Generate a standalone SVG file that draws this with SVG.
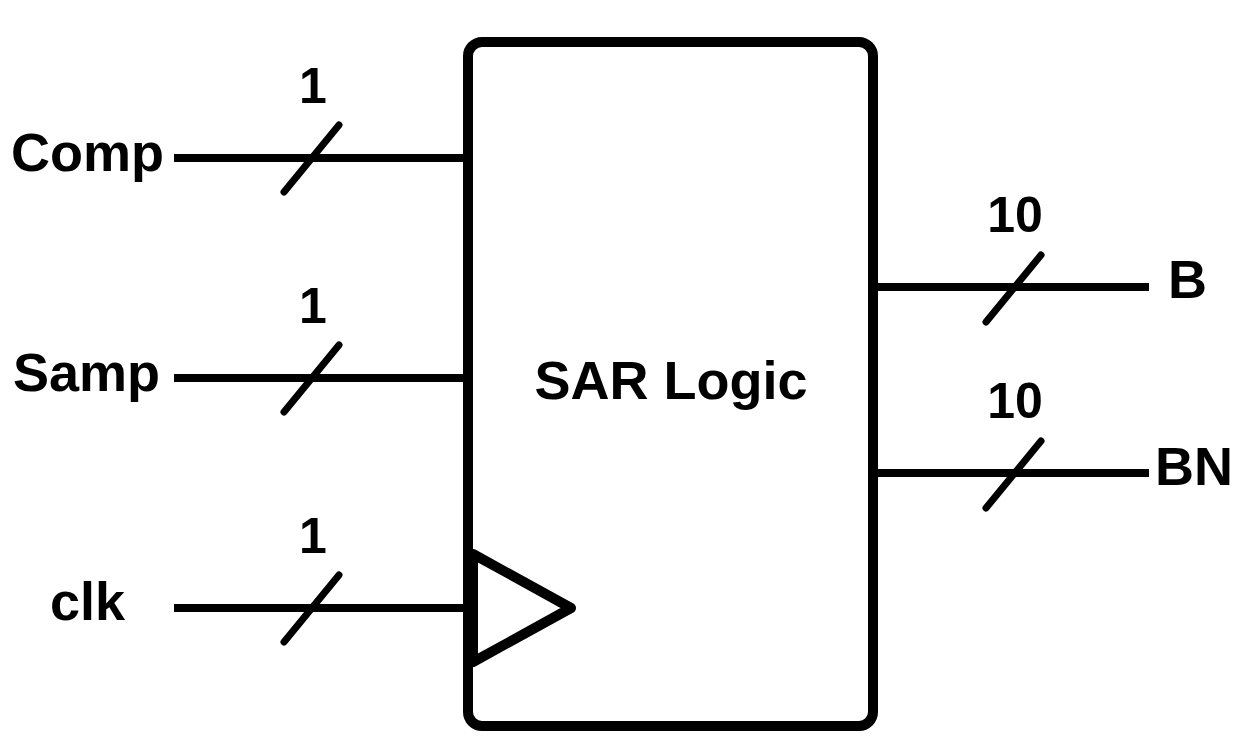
<svg xmlns="http://www.w3.org/2000/svg" width="1257" height="751" viewBox="0 0 1257 751">
<style>
.wire{stroke:#000;stroke-width:8;fill:none}
.slash{stroke:#000;stroke-width:7;stroke-linecap:round;fill:none}
.lbl{font-family:"Liberation Sans",Arial,sans-serif;font-weight:bold;font-size:54px;fill:#000}
.num{font-family:"Liberation Sans",Arial,sans-serif;font-weight:bold;font-size:50px;fill:#000;text-anchor:middle}
</style>
<rect width="1257" height="751" fill="#fff"/>
<g id="connectors">
<line class="wire" x1="174" y1="158" x2="468" y2="158"/>
<line class="slash" x1="284" y1="192" x2="339" y2="125"/>
<line class="wire" x1="174" y1="378" x2="468" y2="378"/>
<line class="slash" x1="284" y1="412" x2="339" y2="345"/>
<line class="wire" x1="174" y1="608" x2="468" y2="608"/>
<line class="slash" x1="284" y1="642" x2="339" y2="575"/>
<line class="wire" x1="873" y1="287" x2="1149" y2="287"/>
<line class="slash" x1="986" y1="322" x2="1041" y2="255"/>
<line class="wire" x1="873" y1="473" x2="1149" y2="473"/>
<line class="slash" x1="986" y1="508" x2="1041" y2="441"/>
</g>
<g id="sar">
<rect x="468" y="42" width="405" height="684" rx="14" fill="none" stroke="#000" stroke-width="10"/>
<polygon points="473,554 571,608 473,662" fill="none" stroke="#000" stroke-width="10" stroke-linejoin="round"/>
<text class="lbl" x="671" y="399" text-anchor="middle">SAR Logic</text>
</g>
<g id="comp"><text class="lbl" x="11" y="171">Comp</text><text class="num" x="313" y="103">1</text></g>
<g id="samp"><text class="lbl" x="13" y="391">Samp</text><text class="num" x="313" y="323">1</text></g>
<g id="clk"><text class="lbl" x="50" y="620">clk</text><text class="num" x="313" y="553">1</text></g>
<g id="b"><text class="lbl" x="1168" y="298">B</text><text class="num" x="1015" y="232">10</text></g>
<g id="bn"><text class="lbl" x="1155" y="485">BN</text><text class="num" x="1015" y="418">10</text></g>
</svg>
